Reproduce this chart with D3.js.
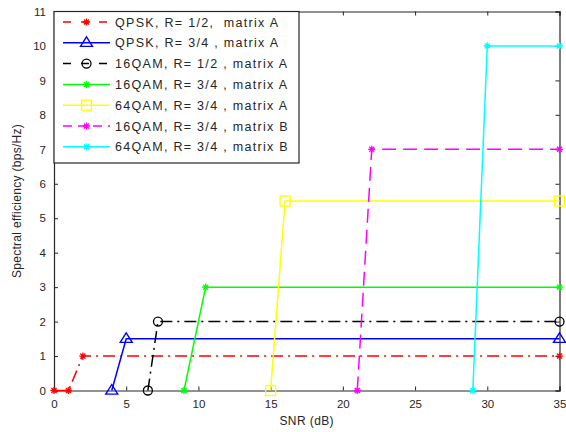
<!DOCTYPE html>
<html><head><meta charset="utf-8">
<script src="https://cdn.jsdelivr.net/npm/d3@7"></script>
<style>
body{margin:0;background:#fff;}
svg{display:block;font-family:"Liberation Sans",Arial,sans-serif;}
text{white-space:pre;}
</style></head>
<body><svg id="c" width="566" height="432"></svg>
<script>
const labels = [
  "QPSK, R= 1/2,  matrix A",
  "QPSK, R= 3/4 , matrix A",
  "16QAM, R= 1/2 , matrix A",
  "16QAM, R= 3/4 , matrix A",
  "64QAM, R= 3/4 , matrix A",
  "16QAM, R= 3/4 , matrix B",
  "64QAM, R= 3/4 , matrix B"
];
const colors = ["#ff0000","#0000ff","#000000","#00ff00","#ffff00","#ff00ff","#00ffff"];
const dashes = ["12,5,2,5", null, "12,5,2,5", null, null, "14,7", null];
const markers = ["star","triangle","circle","star","square","star","star"];
const snrQPSK12 = [0, 1, 2, 35];       const seQPSK12 = [0, 0, 1, 1];
const snrQPSK34 = [4, 5, 35];          const seQPSK34 = [0, 1.5, 1.5];
const snr16QAM12 = [6.5, 7.2, 35];     const se16QAM12 = [0, 2, 2];
const snr16QAM34 = [9, 10.5, 35];      const se16QAM34 = [0, 3, 3];
const snr64QAM34 = [15, 16, 35];       const se64QAM34 = [0, 5.5, 5.5];
const snr16QAM34B = [21, 22, 35];      const se16QAM34B = [0, 7, 7];
const snr64QAM34B = [29, 30, 35];      const se64QAM34B = [0, 10, 10];
const xTicks = [0,5,10,15,20,25,30,35];
const yTicks = [0,1,2,3,4,5,6,7,8,9,10,11];

const seriesX = [snrQPSK12, snrQPSK34, snr16QAM12, snr16QAM34, snr64QAM34, snr16QAM34B, snr64QAM34B];
const seriesY = [seQPSK12, seQPSK34, se16QAM12, se16QAM34, se64QAM34, se16QAM34B, se64QAM34B];

const L = 54, R = 559.5, T = 11.5, B = 390.5;
const x = d3.scaleLinear().domain([0,35]).range([L,R]);
const y = d3.scaleLinear().domain([0,11]).range([B,T]);
const svg = d3.select("#c");
const tc = "#262626";

// axes
const ax = svg.append("g").attr("transform",`translate(0,${B})`)
  .call(d3.axisBottom(x).tickValues(xTicks).tickSize(-4).tickPadding(9));
const ay = svg.append("g").attr("transform",`translate(${L},0)`)
  .call(d3.axisLeft(y).tickValues(yTicks).tickSize(-4).tickPadding(8));
const at = svg.append("g").attr("transform",`translate(0,${T})`)
  .call(d3.axisTop(x).tickValues(xTicks).tickSize(-4).tickFormat(""));
const ar = svg.append("g").attr("transform",`translate(${R},0)`)
  .call(d3.axisRight(y).tickValues(yTicks).tickSize(-4).tickFormat(""));
[ax,ay,at,ar].forEach(g=>{
  g.select(".domain").attr("stroke",tc).attr("stroke-width",1.2);
  g.selectAll(".tick line").attr("stroke",tc);
  g.selectAll("text").attr("fill",tc).attr("font-size",11.5).attr("font-family","Liberation Sans, Arial, sans-serif");
});

svg.append("text").attr("x",(L+R)/2).attr("y",425).attr("text-anchor","middle")
  .attr("font-size",12).attr("fill",tc).attr("letter-spacing",0.4).text("SNR (dB)");
svg.append("text").attr("transform",`translate(21,${(T+B)/2}) rotate(-90)`).attr("text-anchor","middle")
  .attr("font-size",12).attr("fill",tc).attr("letter-spacing",0.3).text("Spectral efficiency (bps/Hz)");

function marker(g, type, cx, cy, color){
  if(type==="star"){
    const r=3.6;
    const p = d3.path();
    for(let k=0;k<4;k++){
      const a=k*Math.PI/4;
      p.moveTo(cx-r*Math.cos(a), cy-r*Math.sin(a));
      p.lineTo(cx+r*Math.cos(a), cy+r*Math.sin(a));
    }
    g.append("path").attr("d",p.toString()).attr("stroke",color).attr("stroke-width",1.3).attr("fill","none");
  } else if(type==="triangle"){
    const r=6;
    g.append("path").attr("d",`M${cx},${cy-r}L${cx+r},${cy+r*0.6}L${cx-r},${cy+r*0.6}Z`)
      .attr("stroke",color).attr("stroke-width",1.4).attr("fill","none");
  } else if(type==="circle"){
    g.append("circle").attr("cx",cx).attr("cy",cy).attr("r",4.5)
      .attr("stroke",color).attr("stroke-width",1.3).attr("fill","none");
  } else if(type==="square"){
    g.append("rect").attr("x",cx-5).attr("y",cy-5).attr("width",10).attr("height",10)
      .attr("stroke",color).attr("stroke-width",1.3).attr("fill","none");
  }
}

const line = d3.line().x(d=>x(d[0])).y(d=>y(d[1]));
const plot = svg.append("g");
seriesX.forEach((xs,i)=>{
  const pts = xs.map((v,j)=>[v, seriesY[i][j]]);
  const p = plot.append("path").attr("d",line(pts)).attr("fill","none")
    .attr("stroke",colors[i]).attr("stroke-width",1.5);
  if(dashes[i]) p.attr("stroke-dasharray",dashes[i]);
  pts.forEach(d=>marker(plot, markers[i], x(d[0]), y(d[1]), colors[i]));
});

// legend
const lg = svg.append("g");
lg.append("rect").attr("x",L).attr("y",T).attr("width",299-L).attr("height",163-T)
  .attr("fill","#fff").attr("stroke",tc).attr("stroke-width",1.2);
labels.forEach((t,i)=>{
  const yy = 22 + i*20.8;
  const l = lg.append("line").attr("x1",63).attr("x2",110).attr("y1",yy).attr("y2",yy)
    .attr("stroke",colors[i]).attr("stroke-width",1.5);
  if(dashes[i]) l.attr("stroke-dasharray", i===5 ? "9,6" : "8,10");
  marker(lg, markers[i], 86.5, yy, colors[i]);
  lg.append("text").attr("x",115).attr("y",yy+4.5).attr("font-size",12.5).attr("fill",tc)
    .attr("letter-spacing",1.3).text(t);
});
</script></body></html>
